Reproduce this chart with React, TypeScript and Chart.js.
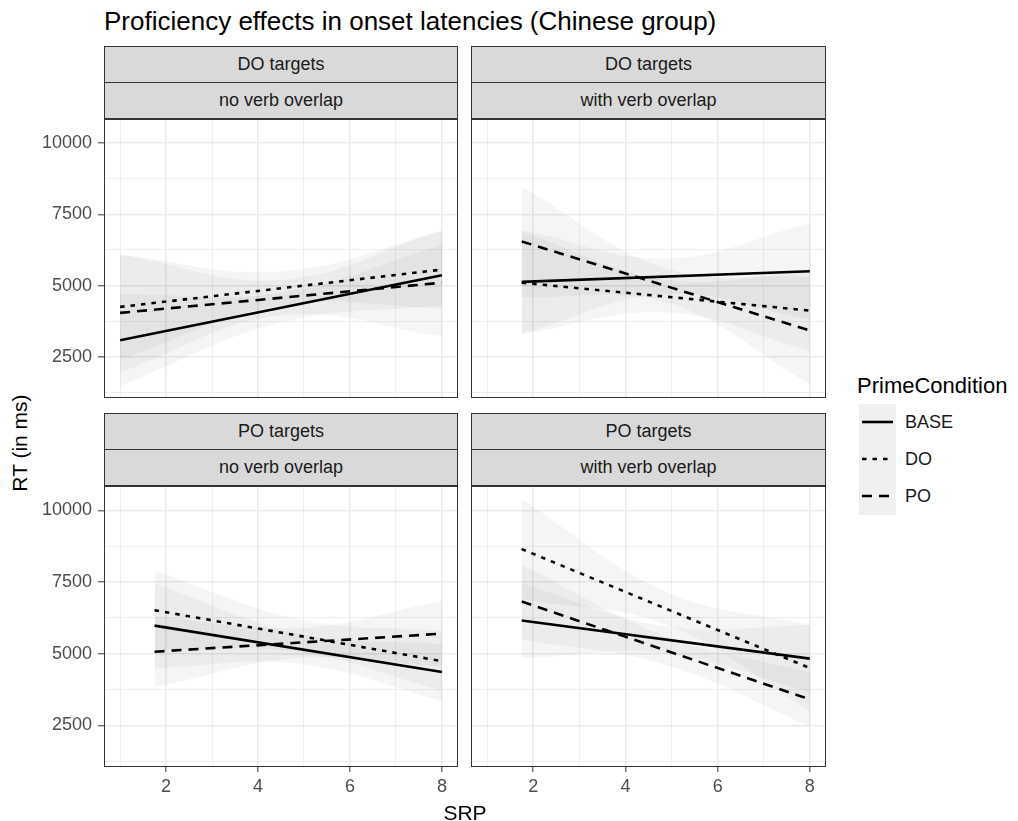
import React, { useEffect, useRef } from 'react';
import { Chart, registerables } from 'chart.js';

Chart.register(...registerables);

const FONT = "'Liberation Sans', Arial, Helvetica, sans-serif";

// ---- text ----
const TITLE = 'Proficiency effects in onset latencies (Chinese group)';
const X_TITLE = 'SRP';
const Y_TITLE = 'RT (in ms)';
const LEGEND_TITLE = 'PrimeCondition';
const SERIES = ['BASE', 'DO', 'PO'];
const TARGET_STRIPS = ['DO targets', 'DO targets', 'PO targets', 'PO targets'];
const OVERLAP_STRIPS = ['no verb overlap', 'with verb overlap', 'no verb overlap', 'with verb overlap'];

// ---- axes ----
const X_RANGE = [0.65, 8.35];
const Y_RANGE = [1050, 10850];
const X_GRID = [1, 2, 3, 4, 5, 6, 7, 8];
const Y_GRID = [1250, 2500, 3750, 5000, 6250, 7500, 8750, 10000];
const X_LABELS = [2, 4, 6, 8];
const Y_LABELS = [2500, 5000, 7500, 10000];

// ---- x positions of fit (start, middle, end) ----
const X_TL = [1, 4.5, 8];
const X_TR = [1.75, 4.9, 8];
const X_BL = [1.75, 4.9, 8];
const X_BR = [1.75, 4.9, 8];

// ---- fitted lines: [value at start, value at end] ----
const TL_BASE = [3080, 5360];
const TL_DO = [4250, 5560];
const TL_PO = [4040, 5100];
const TR_BASE = [5130, 5500];
const TR_DO = [5100, 4120];
const TR_PO = [6550, 3420];
const BL_BASE = [5980, 4360];
const BL_DO = [6520, 4740];
const BL_PO = [5070, 5700];
const BR_BASE = [6160, 4830];
const BR_DO = [8650, 4500];
const BR_PO = [6820, 3410];

// ---- confidence ribbons: lower / upper at start, middle, end ----
const TL_BASE_LO = [1470, 3700, 4300];
const TL_BASE_HI = [4700, 4750, 6420];
const TL_DO_LO = [2400, 4300, 4200];
const TL_DO_HI = [6085, 5500, 6900];
const TL_PO_LO = [1950, 3950, 3220];
const TL_PO_HI = [6100, 5200, 6950];

const TR_BASE_LO = [3300, 4700, 3800];
const TR_BASE_HI = [6950, 5950, 7200];
const TR_DO_LO = [3300, 4050, 2700];
const TR_DO_HI = [6900, 5200, 5550];
const TR_PO_LO = [4600, 4400, 1530];
const TR_PO_HI = [8480, 5600, 5300];

const BL_BASE_LO = [4500, 4650, 3350];
const BL_BASE_HI = [7450, 5700, 5350];
const BL_DO_LO = [5150, 5050, 3700];
const BL_DO_HI = [7900, 6200, 5800];
const BL_PO_LO = [3830, 4850, 4550];
const BL_PO_HI = [6300, 5900, 6840];

const BR_BASE_LO = [4850, 5000, 3650];
const BR_BASE_HI = [7450, 5950, 6000];
const BR_DO_LO = [6900, 6000, 3000];
const BR_DO_HI = [10390, 7150, 6000];
const BR_PO_LO = [5500, 4600, 2470];
const BR_PO_HI = [8100, 5600, 4350];

const DASHES: number[][] = [[], [4.5, 6], [10, 7]];
const LINE_W = 2.6;
const RIBBON = 'rgba(0,0,0,0.04)';

type PanelDef = {
  left: number; top: number; w: number; h: number;
  showX: boolean; showY: boolean;
  xs: number[]; lines: number[][]; lows: number[][]; highs: number[][];
};

const PANELS: PanelDef[] = [
  { left: 104, top: 119, w: 354, h: 279, showX: false, showY: true, xs: X_TL,
    lines: [TL_BASE, TL_DO, TL_PO], lows: [TL_BASE_LO, TL_DO_LO, TL_PO_LO], highs: [TL_BASE_HI, TL_DO_HI, TL_PO_HI] },
  { left: 471, top: 119, w: 355, h: 279, showX: false, showY: false, xs: X_TR,
    lines: [TR_BASE, TR_DO, TR_PO], lows: [TR_BASE_LO, TR_DO_LO, TR_PO_LO], highs: [TR_BASE_HI, TR_DO_HI, TR_PO_HI] },
  { left: 104, top: 486, w: 354, h: 281, showX: true, showY: true, xs: X_BL,
    lines: [BL_BASE, BL_DO, BL_PO], lows: [BL_BASE_LO, BL_DO_LO, BL_PO_LO], highs: [BL_BASE_HI, BL_DO_HI, BL_PO_HI] },
  { left: 471, top: 486, w: 355, h: 281, showX: true, showY: false, xs: X_BR,
    lines: [BR_BASE, BR_DO, BR_PO], lows: [BR_BASE_LO, BR_DO_LO, BR_PO_LO], highs: [BR_BASE_HI, BR_DO_HI, BR_PO_HI] },
];

const YW = 70;
const XH = 36;
const PAD = 2;
const STRIP_H = 37;

function zeroPadding(s: any) {
  s.paddingTop = 0;
  s.paddingBottom = 0;
  s.paddingLeft = 0;
  s.paddingRight = 0;
}

function Panel({ p }: { p: PanelDef }) {
  const ref = useRef<HTMLCanvasElement>(null);
  const cw = (p.showY ? YW : 0) + p.w + PAD;
  const ch = PAD + p.h + (p.showX ? XH : 0);
  const cl = p.left - (p.showY ? YW : 0);
  const ct = p.top - PAD;

  useEffect(() => {
    if (!ref.current) return;
    const datasets: any[] = [];
    p.lines.forEach((ln, i) => {
      datasets.push({
        label: SERIES[i],
        data: [{ x: p.xs[0], y: ln[0] }, { x: p.xs[2], y: ln[1] }],
        borderColor: '#000', borderWidth: LINE_W, borderDash: DASHES[i],
        pointRadius: 0, fill: false, tension: 0, borderCapStyle: 'butt',
      });
    });
    p.lows.forEach((lo, i) => {
      datasets.push({
        label: SERIES[i] + ' upper',
        data: p.xs.map((x, j) => ({ x, y: p.highs[i][j] })),
        borderColor: 'rgba(0,0,0,0)', borderWidth: 0, pointRadius: 0,
        fill: '+1', backgroundColor: RIBBON, tension: 0.4,
      });
      datasets.push({
        label: SERIES[i] + ' lower',
        data: p.xs.map((x, j) => ({ x, y: lo[j] })),
        borderColor: 'rgba(0,0,0,0)', borderWidth: 0, pointRadius: 0,
        fill: false, tension: 0.4,
      });
    });

    const isMajorX = (v: number) => X_LABELS.indexOf(Math.round(v * 1000) / 1000) >= 0;
    const isMajorY = (v: number) => Y_LABELS.indexOf(Math.round(v)) >= 0;

    const chart = new Chart(ref.current, {
      type: 'line',
      data: { datasets },
      options: {
        animation: false,
        responsive: false,
        devicePixelRatio: 1,
        layout: { padding: { top: PAD, right: PAD, left: 0, bottom: 0 } },
        plugins: { legend: { display: false }, tooltip: { enabled: false } },
        scales: {
          x: {
            type: 'linear', min: X_RANGE[0], max: X_RANGE[1],
            border: { display: false },
            grid: {
              color: '#ebebeb',
              lineWidth: (c: any) => (isMajorX(c.tick?.value) ? 1.6 : 0.8),
              drawTicks: p.showX,
              tickLength: 5,
              tickColor: (c: any) => (isMajorX(c.tick?.value) ? '#333333' : 'rgba(0,0,0,0)'),
              tickWidth: 1,
            },
            ticks: {
              display: p.showX, autoSkip: false, maxRotation: 0, padding: 4,
              color: '#4d4d4d', font: { family: FONT, size: 18 },
              callback: (v: any) => (isMajorX(Number(v)) ? String(v) : ''),
            },
            afterBuildTicks: (s: any) => { s.ticks = X_GRID.map((v) => ({ value: v })); },
            afterFit: (s: any) => { s.height = p.showX ? XH : 0; zeroPadding(s); },
          },
          y: {
            type: 'linear', min: Y_RANGE[0], max: Y_RANGE[1],
            border: { display: false },
            grid: {
              color: '#ebebeb',
              lineWidth: (c: any) => (isMajorY(c.tick?.value) ? 1.6 : 0.8),
              drawTicks: p.showY,
              tickLength: 6,
              tickColor: (c: any) => (isMajorY(c.tick?.value) ? '#333333' : 'rgba(0,0,0,0)'),
              tickWidth: 1,
            },
            ticks: {
              display: p.showY, autoSkip: false, padding: 6,
              color: '#4d4d4d', font: { family: FONT, size: 18 },
              callback: (v: any) => (isMajorY(Number(v)) ? String(v) : ''),
            },
            afterBuildTicks: (s: any) => { s.ticks = Y_GRID.map((v) => ({ value: v })); },
            afterFit: (s: any) => { s.width = p.showY ? YW : 0; zeroPadding(s); },
          },
        },
      } as any,
    });
    return () => chart.destroy();
  }, []);

  return (
    <canvas
      ref={ref}
      width={cw}
      height={ch}
      style={{ position: 'absolute', left: cl, top: ct, width: cw, height: ch }}
    />
  );
}

function Strip({ left, top, w, text }: { left: number; top: number; w: number; text: string }) {
  return (
    <div
      style={{
        position: 'absolute', left, top, width: w, height: STRIP_H, boxSizing: 'border-box',
        background: '#d9d9d9', border: '1px solid #333333', display: 'flex',
        alignItems: 'center', justifyContent: 'center', fontFamily: FONT, fontSize: 18,
        color: '#1a1a1a', whiteSpace: 'nowrap',
      }}
    >
      {text}
    </div>
  );
}

const LEGEND_Y = [422, 459, 496];

export default function App() {
  return (
    <div style={{ position: 'absolute', left: 0, top: 0, width: 1018, height: 821, background: '#fff', overflow: 'hidden' }}>
      <div style={{ position: 'absolute', left: 104, top: 6, fontFamily: FONT, fontSize: 26, color: '#000', whiteSpace: 'nowrap', lineHeight: '30px' }}>
        {TITLE}
      </div>
      {PANELS.map((p, i) => (
        <React.Fragment key={i}>
          <Panel p={p} />
          <div style={{ position: 'absolute', left: p.left, top: p.top, width: p.w, height: p.h, boxSizing: 'border-box', border: '1px solid #333333', pointerEvents: 'none' }} />
          <Strip left={p.left} top={p.top - 2 * STRIP_H + 1} w={p.w} text={TARGET_STRIPS[i]} />
          <Strip left={p.left} top={p.top - STRIP_H} w={p.w} text={OVERLAP_STRIPS[i]} />
        </React.Fragment>
      ))}
      <div style={{ position: 'absolute', left: 365, width: 200, top: 800, textAlign: 'center', fontFamily: FONT, fontSize: 21, color: '#000', lineHeight: '26px' }}>
        {X_TITLE}
      </div>
      <div style={{ position: 'absolute', left: 20 - 100, top: 443 - 13, width: 200, height: 26, textAlign: 'center', fontFamily: FONT, fontSize: 21, color: '#000', lineHeight: '26px', transform: 'rotate(-90deg)' }}>
        {Y_TITLE}
      </div>
      <div style={{ position: 'absolute', left: 857, top: 373, fontFamily: FONT, fontSize: 22, color: '#000', lineHeight: '26px', whiteSpace: 'nowrap' }}>
        {LEGEND_TITLE}
      </div>
      <svg style={{ position: 'absolute', left: 859, top: 404 }} width={37} height={111}>
        <rect x={0} y={0} width={37} height={111} fill="#f0f0f0" />
        {SERIES.map((s, i) => (
          <line key={s} x1={3} x2={34} y1={LEGEND_Y[i] - 404} y2={LEGEND_Y[i] - 404}
            stroke="#000" strokeWidth={LINE_W} strokeDasharray={DASHES[i].length ? DASHES[i].join(' ') : undefined} />
        ))}
      </svg>
      {SERIES.map((s, i) => (
        <div key={s} style={{ position: 'absolute', left: 905, top: LEGEND_Y[i] - 12, fontFamily: FONT, fontSize: 18, color: '#1a1a1a', lineHeight: '24px' }}>
          {s}
        </div>
      ))}
    </div>
  );
}
